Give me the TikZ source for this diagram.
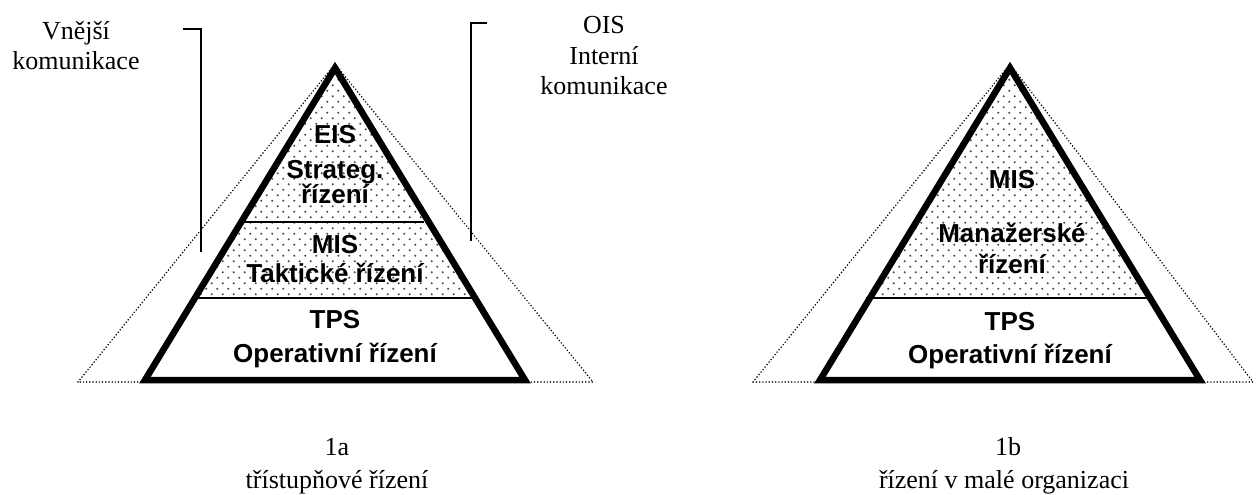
\documentclass[tikz,border=0pt]{standalone}
\usepackage{fontspec}
\setmainfont{Liberation Serif}
\newfontfamily\labsans{Liberation Sans}
\usetikzlibrary{patterns}
\pgfdeclarepatternformonly{pyrdots}{\pgfqpoint{-1pt}{-1pt}}{\pgfqpoint{12pt}{12pt}}{\pgfqpoint{11pt}{11pt}}{%
  \pgfpathcircle{\pgfqpoint{2.75pt}{2.75pt}}{1.1pt}%
  \pgfpathcircle{\pgfqpoint{8.25pt}{8.25pt}}{1.1pt}%
  \pgfusepath{fill}}
\tikzset{
  serif/.style={inner sep=0pt, anchor=base, font=\fontsize{26}{30}\selectfont},
  boldlab/.style={inner sep=0pt, anchor=base, font=\labsans\bfseries\fontsize{26}{30}\selectfont},
  outline/.style={line width=6.5pt, line join=miter},
  divider/.style={line width=2pt},
  bracket/.style={line width=2pt},
  dottedtri/.style={line width=1.7pt, line cap=round, dash pattern=on 0pt off 3.2pt},
  dotfill/.style={pattern=pyrdots, pattern color=black!70}
}
\begin{document}
\begin{tikzpicture}[x=1pt,y=-1pt]
\useasboundingbox (0,0) rectangle (1258,495);
% ---------- left pyramid 1a ----------
\coordinate (La) at (335,68);
\coordinate (Ll) at (145,380);
\coordinate (Lr) at (525,380);
\coordinate (DLa) at (335,64);
\coordinate (DLl) at (78,382);
\coordinate (DLr) at (593,382);
\draw[dottedtri] (DLl) -- (DLa) -- (DLr) -- cycle;
\fill[dotfill] (La) -- (195,298) -- (475,298) -- cycle;
\coordinate (L1a) at (243,222); \coordinate (L1b) at (424,222);
\coordinate (L2a) at (192,298); \coordinate (L2b) at (474,298);
\draw[divider] (L1a) -- (L1b);
\draw[divider] (L2a) -- (L2b);
\draw[outline] (La) -- (Ll) -- (Lr) -- cycle;
\node[boldlab] (eis) at (335,143) {EIS};
\node[boldlab] (strat) at (335,178) {Strateg.};
\node[boldlab] (rizS) at (335,203) {řízení};
\node[boldlab] (misL) at (335,253) {MIS};
\node[boldlab] (takt) at (335,282) {Taktické řízení};
\node[boldlab] (tpsL) at (335,328) {TPS};
\node[boldlab] (opL) at (335,362) {Operativní řízení};
% brackets and side labels
\coordinate (BLa) at (183,29); \coordinate (BLb) at (201,29); \coordinate (BLc) at (201,252);
\draw[bracket] (BLa) -- (BLb) -- (BLc);
\coordinate (BRa) at (487,23); \coordinate (BRb) at (471,23); \coordinate (BRc) at (471,241);
\draw[bracket] (BRa) -- (BRb) -- (BRc);
\node[serif] (vn1) at (76,40) {Vnější};
\node[serif] (vn2) at (76,70) {komunikace};
\node[serif] (ois1) at (604,34) {OIS};
\node[serif] (ois2) at (604,65) {Interní};
\node[serif] (ois3) at (604,95) {komunikace};
\node[serif] (cap1a) at (337,455) {1a};
\node[serif] (cap1b) at (337,488) {třístupňové řízení};
% ---------- right pyramid 1b ----------
\coordinate (Ra) at (1010,68);
\coordinate (Rl) at (820,380);
\coordinate (Rr) at (1200,380);
\coordinate (DRa) at (1010,64);
\coordinate (DRl) at (753,382);
\coordinate (DRr) at (1253,382);
\draw[dottedtri] (DRl) -- (DRa) -- (DRr) -- cycle;
\fill[dotfill] (Ra) -- (870,298) -- (1150,298) -- cycle;
\coordinate (R2a) at (866,298); \coordinate (R2b) at (1147,298);
\draw[divider] (R2a) -- (R2b);
\draw[outline] (Ra) -- (Rl) -- (Rr) -- cycle;
\node[boldlab] (misR) at (1012,188) {MIS};
\node[boldlab] (man) at (1012,242) {Manažerské};
\node[boldlab] (rizM) at (1012,273) {řízení};
\node[boldlab] (tpsR) at (1010,330) {TPS};
\node[boldlab] (opR) at (1010,363) {Operativní řízení};
\node[serif] (cap2a) at (1008,455) {1b};
\node[serif] (cap2b) at (1004,488) {řízení v malé organizaci};
\end{tikzpicture}
\end{document}
